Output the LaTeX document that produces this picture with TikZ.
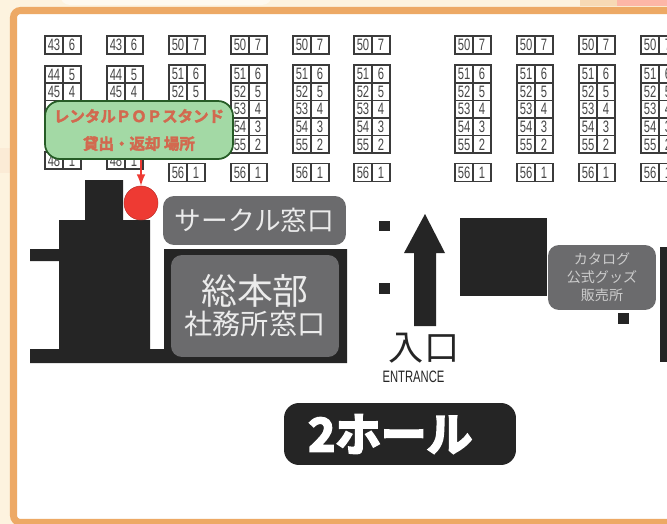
\documentclass[tikz,border=0pt]{standalone}
\usepackage{fontspec}
\setmainfont{Liberation Sans}
\newfontfamily\cjk{Noto Sans CJK JP}
\newfontfamily\cjkbold[FakeBold=2.5]{Noto Sans CJK JP Bold}
\newfontfamily\cjkheavy[FakeBold=4.5]{Noto Sans CJK JP Bold}
\newfontfamily\numfont[FakeStretch=0.68]{Liberation Sans}
\definecolor{framecol}{HTML}{EDA965}
\definecolor{creamcol}{HTML}{FDF3DF}
\definecolor{inkcol}{HTML}{252525}
\definecolor{windowcol}{HTML}{6B6B6D}
\definecolor{popcol}{HTML}{A3D9A5}
\definecolor{poptext}{HTML}{D2694F}
\definecolor{spotcol}{HTML}{EE3A33}
\tikzset{
	stall/.style={draw=inkcol!90, line width=0.85pt, fill=white, inner sep=0pt, minimum width=0.36cm, minimum height=#1, font=\numfont\fontsize{9.4}{9.4}\selectfont, text=inkcol!85},
	window/.style={fill=windowcol, rounded corners=0.22cm, inner sep=0pt, align=center, text=white!92!black},
	booth/.style={fill=inkcol, inner sep=0pt, minimum size=0.22cm}
}
\begin{document}
\begin{tikzpicture}[x=0.02cm, y=-0.02cm]
	\clip (0, 0) rectangle (667, 524);
	% Background and frame:
	\fill[creamcol] (0, 0) rectangle (667, 524);
	\fill[creamcol!70!framecol!60] (0, 148) rectangle (10, 173);
	\fill[white!50!creamcol, rounded corners=0.2cm] (60, -10) rectangle (272, 5);
	\fill[framecol!35!creamcol] (580, 0) rectangle (617, 6);
	\fill[red!25!creamcol] (617, 0) rectangle (667, 6);
	\draw[framecol, line width=4pt, fill=white, rounded corners=0.14cm] (13.5, 10.5) rectangle (700, 522.5);
	% Stalls, upper row:
	\foreach \cx in {45, 107}
		\foreach \ry/\lnum/\rnum/\rh in {45/43/6/0.36cm, 74.6/44/5/0.344cm, 91.8/45/4/0.344cm, 109/46/3/0.344cm, 126.2/47/2/0.344cm, 160.6/48/1/0.344cm} {
			\node[stall=\rh] (l\cx-\lnum) at ({\cx+9}, \ry) {\lnum};
			\node[stall=\rh] (r\cx-\lnum) at ({\cx+27}, \ry) {\rnum};
		}
	\foreach \cx in {169, 231, 293, 354, 455, 517, 579, 641}
		\foreach \ry/\lnum/\rnum in {45/50/7, 74/51/6, 91.6/52/5, 109.2/53/4, 126.8/54/3, 144.4/55/2, 172.5/56/1} {
			\node[stall=0.352cm] (l\cx-\lnum) at ({\cx+9}, \ry) {\lnum};
			\node[stall=0.352cm] (r\cx-\lnum) at ({\cx+27}, \ry) {\rnum};
		}
	% Walls:
	\fill[inkcol] (85, 180) -- (123, 180) -- (123, 220) -- (150, 220) -- (150, 349) -- (164, 349) -- (164, 249) -- (347, 249) -- (347, 363) -- (30, 363) -- (30, 349) -- (59, 349) -- (59, 261) -- (30, 261) -- (30, 249) -- (59, 249) -- (59, 220) -- (85, 220) -- cycle;
	\fill[inkcol] (660, 247) rectangle (670, 362);
	\node[fill=inkcol, minimum width=1.74cm, minimum height=1.56cm, inner sep=0pt] (store) at (503.5, 257) {};
	\node[booth] (boothA) at (384.5, 226) {};
	\node[booth] (boothB) at (384.5, 288.5) {};
	\node[booth] (boothC) at (623, 318) {};
	% Windows:
	\node[window, minimum width=3.66cm, minimum height=0.98cm, font=\cjk\fontsize{15.2}{15.2}\selectfont] (circle) at (254.5, 220.5) {サークル窓口};
	\node[window, minimum width=3.36cm, minimum height=2.04cm] (office) at (255, 306) {{\cjk\fontsize{20.4}{24}\selectfont 総本部}\\[1pt]{\cjk\fontsize{16}{18}\selectfont 社務所窓口}};
	\node[window, minimum width=2.16cm, minimum height=1.3cm, font=\cjk\fontsize{8}{10.2}\selectfont, text=white!80!black] (shop) at (602, 277.5) {カタログ\\公式グッズ\\販売所};
	% Spot and label:
	\node[circle, fill=spotcol, draw=spotcol!80!black, line width=0.3pt, minimum size=0.68cm, inner sep=0pt] (spot) at (141, 203) {};
	\node[draw=green!25!black!85, line width=1pt, fill=popcol, rounded corners=0.3cm, minimum width=3.76cm, minimum height=1.16cm, inner sep=0pt, align=center, text=poptext, font=\cjkbold\fontsize{8.8}{15.6}\selectfont] (pop) at (139, 130) {レンタルＰＯＰスタンド\\貸出・返却 場所};
	\draw[-latex, spotcol, line width=1.2pt] (pop.south -| spot.north) -- (spot.north);
	% Entrance:
	\fill[inkcol] (425, 214) -- (445, 253) -- (436, 253) -- (436, 326) -- (414, 326) -- (414, 253) -- (404, 253) -- cycle;
	\node[text=inkcol, font=\cjk\fontsize{20}{20}\selectfont, inner sep=0pt] (entry) at (424, 348) {入口};
	\node[text=inkcol, font=\numfont\fontsize{9.4}{9.4}\selectfont, inner sep=0pt] (entrance) at (413.5, 377) {ENTRANCE};
	% Hall name:
	\node[fill=inkcol, rounded corners=0.3cm, minimum width=4.64cm, minimum height=1.24cm, inner sep=0pt, text=white, font=\cjkheavy\fontsize{26}{26}\selectfont] (hall) at (400, 434) {2ホール\kern 11pt};
\end{tikzpicture}
\end{document}
